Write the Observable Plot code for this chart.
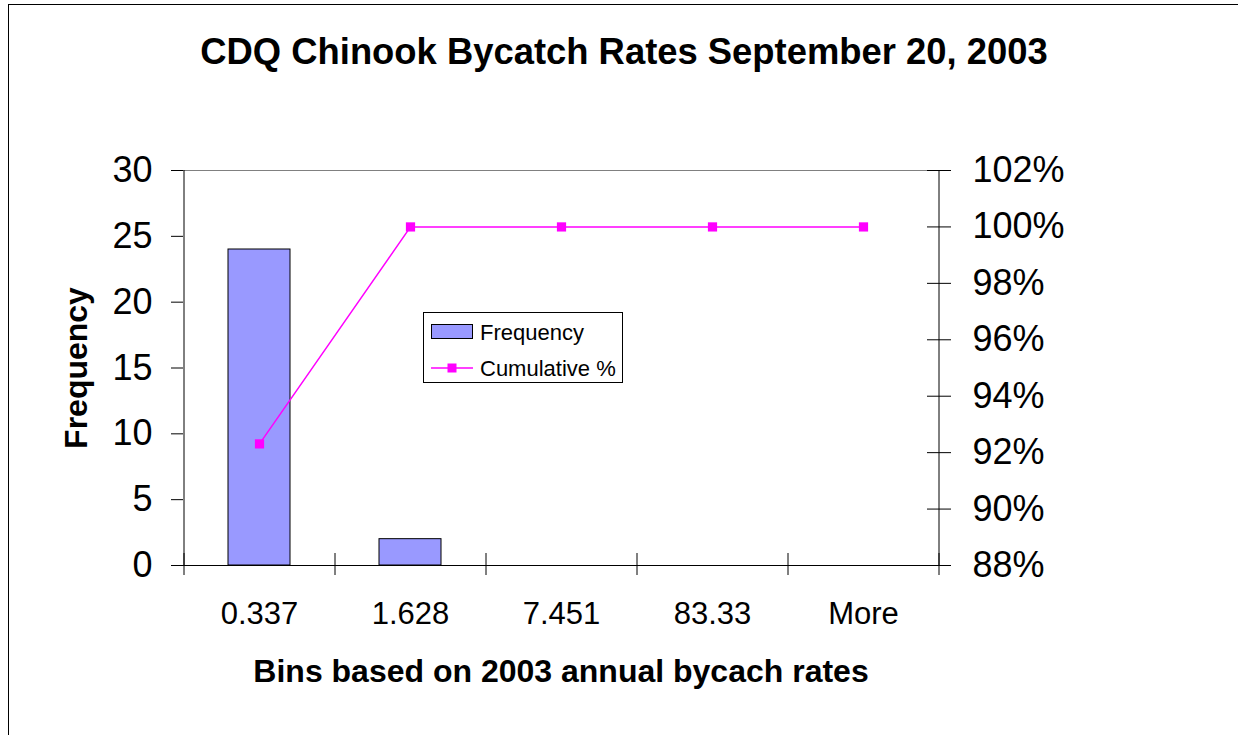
<!DOCTYPE html>
<html>
<head>
<meta charset="utf-8">
<script src="https://cdn.jsdelivr.net/npm/d3@7"></script>
<script src="https://cdn.jsdelivr.net/npm/@observablehq/plot@0.6"></script>
<style>
  html, body { margin: 0; padding: 0; background: #fff; }
  #wrap { position: relative; width: 1238px; height: 735px; overflow: hidden; font-family: "Liberation Sans", Arial, sans-serif; color: #000; }
  #border { position: absolute; left: 8px; top: 4px; width: 1400px; height: 900px; border-left: 1px solid #000; border-top: 1px solid #000; box-sizing: border-box; }
  #title { position: relative; height: 100px; width: 1248px; }
  #title span { position: absolute; left: 0; width: 1248px; top: 34px; text-align: center; font-size: 36.4px; line-height: 36px; font-weight: bold; white-space: nowrap; }
  #chart { position: relative; }
  #legend { position: absolute; left: 423px; top: 312px; width: 200px; height: 71px; box-sizing: border-box; border: 1px solid #000; background: #fff; }
</style>
</head>
<body>
<div id="wrap">
  <div id="border"></div>
  <div id="title"><span>CDQ Chinook Bycatch Rates September 20, 2003</span></div>
  <div id="chart"></div>
  <div id="legend"></div>
</div>
<script>
const bins = ["0.337", "1.628", "7.451", "83.33", "More"];
const frequency = [24, 2, 0, 0, 0];
const cumulativePct = [92.31, 100, 100, 100, 100];
const freqTicks = [0, 5, 10, 15, 20, 25, 30];
const pctTicks = [88, 90, 92, 94, 96, 98, 100, 102];

const data = bins.map((b, i) => ({bin: b, freq: frequency[i], cum: cumulativePct[i]}));

const W = 1238, H = 635, ML = 183, MR = 300, MT = 70, MB = 170;
const step = (W - ML - MR) / bins.length;
const fMax = freqTicks[freqTicks.length - 1];
const pMin = pctTicks[0], pMax = pctTicks[pctTicks.length - 1];
const pctToFreq = p => (p - pMin) / (pMax - pMin) * fMax;
const freqToPct = f => pMin + f / fMax * (pMax - pMin);

const font = "'Liberation Sans', Arial, sans-serif";
const chart = Plot.plot({
  width: W, height: H,
  marginTop: MT, marginBottom: MB, marginLeft: ML, marginRight: MR,
  style: {fontFamily: font, fontSize: "36px", color: "#000", background: "transparent", overflow: "visible"},
  x: {domain: bins, paddingInner: 0.59, paddingOuter: 0.295},
  y: {domain: [0, fMax]},
  marks: [
    Plot.ruleY([fMax], {stroke: "#808080", strokeWidth: 1}),
    Plot.barY(data, {x: "bin", y: "freq", fill: "#9999FF", stroke: "#000", strokeWidth: 1}),
    Plot.ruleY([0], {stroke: "#000", strokeWidth: 1}),
    Plot.ruleX([bins[0]], {dx: -step / 2, stroke: "#000", strokeWidth: 1}),
    Plot.ruleX([bins[bins.length - 1]], {dx: step / 2, stroke: "#000", strokeWidth: 1}),
    Plot.line(data, {x: "bin", y: d => pctToFreq(d.cum), stroke: "#FF00FF", strokeWidth: 1.5}),
    Plot.dot(data, {x: "bin", y: d => pctToFreq(d.cum), symbol: "square", r: 5.2, fill: "#FF00FF", stroke: "none"}),
    Plot.axisY({ticks: freqTicks, tickSize: 12, tickPadding: 19, fontSize: 36, label: null, strokeWidth: 1}),
    Plot.axisY({anchor: "right", ticks: pctTicks.map(pctToFreq), tickFormat: f => Math.round(freqToPct(f)) + "%", tickSize: 24, dx: -12, tickPadding: 22, fontSize: 36, label: null, strokeWidth: 1}),
    Plot.axisX({tickSize: 0, tickPadding: 36, fontSize: 31, label: null}),
    Plot.axisX({tickFormat: () => "", tickSize: 22, dx: -step / 2, dy: -12, label: null, strokeWidth: 1}),
    Plot.axisX({ticks: [bins[bins.length - 1]], tickFormat: () => "", tickSize: 22, dx: step / 2, dy: -12, label: null, strokeWidth: 1}),
    Plot.text(["Frequency"], {frameAnchor: "left", rotate: -90, textAnchor: "middle", lineAnchor: "middle", dx: -107, fontWeight: "bold", fontSize: 32}),
    Plot.text(["Bins based on 2003 annual bycach rates"], {frameAnchor: "bottom", textAnchor: "middle", lineAnchor: "middle", dy: 106, fontWeight: "bold", fontSize: 32})
  ]
});
document.getElementById("chart").appendChild(chart);

// legend
const legendItems = [
  {label: "Frequency", kind: "bar"},
  {label: "Cumulative %", kind: "line"}
];
const lg = d3.select("#legend").append("svg").attr("width", 198).attr("height", 69)
  .style("font-family", font).style("font-size", "22px");
legendItems.forEach((it, i) => {
  const cy = 19 + i * 36;
  if (it.kind === "bar") {
    lg.append("rect").attr("x", 7.5).attr("y", cy - 7.5).attr("width", 41).attr("height", 14)
      .attr("fill", "#9999FF").attr("stroke", "#000").attr("stroke-width", 1);
  } else {
    lg.append("line").attr("x1", 7).attr("x2", 49).attr("y1", cy).attr("y2", cy)
      .attr("stroke", "#FF00FF").attr("stroke-width", 1.5);
    lg.append("rect").attr("x", 28 - 4.5).attr("y", cy - 4.5).attr("width", 9).attr("height", 9)
      .attr("fill", "#FF00FF");
  }
  lg.append("text").attr("x", 56).attr("y", cy).attr("dy", "0.35em").text(it.label);
});
</script>
</body>
</html>
